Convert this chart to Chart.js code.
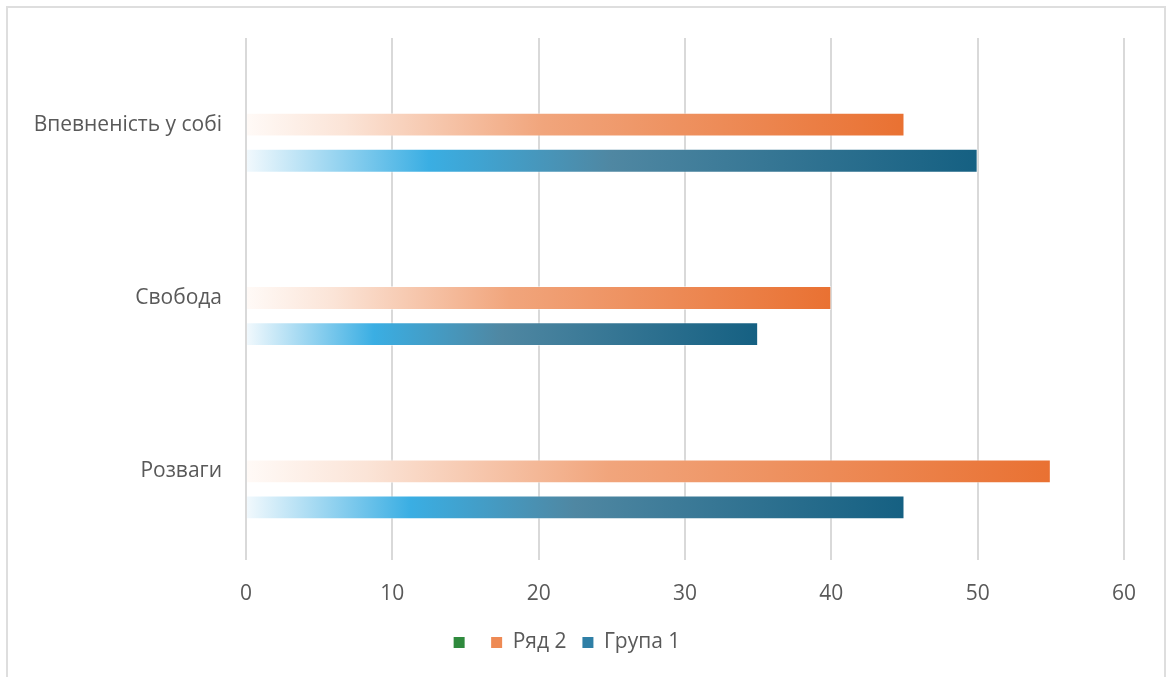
<!DOCTYPE html>
<html>
<head>
<meta charset="utf-8">
<script src="https://cdn.jsdelivr.net/npm/chart.js@4"></script>
<style>
  html, body { margin: 0; padding: 0; background: #fff; }
  #wrap { position: relative; width: 1168px; height: 677px; overflow: hidden; }
  #frame { position: absolute; left: 6px; top: 6px; width: 1160px; height: 700px;
           border: 2px solid #dedede; box-sizing: border-box; pointer-events: none; }
  canvas { position: absolute; left: 0; top: 0; }
</style>
</head>
<body>
<div id="wrap">
  <canvas id="barChart" width="1168" height="677"></canvas>
  <div id="frame"></div>
</div>
<script>
document.addEventListener('DOMContentLoaded', function () {

    // --- DATA ---
    const categories = ['Впевненість у собі', 'Свобода', 'Розваги'];
    const seriesNames = ['', 'Ряд 2', 'Група 1'];
    const series3 = [null, null, null];   // empty green series
    const series2 = [45, 40, 55];         // Ряд 2
    const series1 = [50, 35, 45];         // Група 1
    const xTicks = [0, 10, 20, 30, 40, 50, 60];

    const textColor = '#595959';
    const fontFamily = '"Open Sans", "Liberation Sans", sans-serif';

    // gradient stops per series (applied along each bar's own length)
    const greenStops = [[0, '#8fd89a'], [1, '#1e6b2c']];
    const orangeStops = [[0, '#fffaf7'], [0.15, '#fbe4d7'], [0.45, '#f1a57c'], [1, '#e97132']];
    const blueStops = [[0, '#f2f9fd'], [0.25, '#3aaee3'], [0.5, '#4f87a2'], [1, '#156082']];

    // solid colours used for the legend boxes
    const legendColors = ['#2f8a3d', '#ee8a54', '#2f7fa6'];

    // Builds a scriptable background that spans from 0 to the bar's value
    function barGradient(stops, fallback) {
        return function (context) {
            const chart = context.chart;
            const xScale = chart.scales.x;
            if (!chart.chartArea || !xScale || context.type !== 'data' || !context.parsed || context.parsed.x == null) {
                return fallback;
            }
            const x0 = xScale.getPixelForValue(0);
            const x1 = xScale.getPixelForValue(context.parsed.x);
            const g = chart.ctx.createLinearGradient(x0, 0, x1, 0);
            stops.forEach(s => g.addColorStop(s[0], s[1]));
            return g;
        };
    }

    const ctx = document.getElementById('barChart').getContext('2d');

    new Chart(ctx, {
        type: 'bar',
        data: {
            labels: categories,
            datasets: [
                { label: seriesNames[0], data: series3, backgroundColor: barGradient(greenStops, legendColors[0]) },
                { label: seriesNames[1], data: series2, backgroundColor: barGradient(orangeStops, legendColors[1]),
                  borderColor: 'rgba(255,255,255,0.45)', borderWidth: 1 },
                { label: seriesNames[2], data: series1, backgroundColor: barGradient(blueStops, legendColors[2]),
                  borderColor: 'rgba(255,255,255,0.45)', borderWidth: 1 }
            ]
        },
        options: {
            indexAxis: 'y',
            responsive: false,
            animation: false,
            devicePixelRatio: 1,
            datasets: {
                bar: { categoryPercentage: 0.625, barPercentage: 0.66 }
            },
            layout: { padding: { top: 38, right: 44, left: 10, bottom: 14 } },
            scales: {
                x: {
                    min: 0,
                    max: 60,
                    afterBuildTicks: function (scale) {
                        scale.ticks = xTicks.map(v => ({ value: v }));
                    },
                    afterFit: function (scale) { scale.height = 58; },
                    grid: { color: '#d9d9d9', lineWidth: 2, drawTicks: true, tickLength: 2, tickColor: '#d9d9d9' },
                    border: { display: false },
                    ticks: { color: textColor, padding: 21, font: { family: fontFamily, size: 21 } }
                },
                y: {
                    afterFit: function (scale) { scale.width = 236; },
                    grid: { display: false, drawTicks: false },
                    border: { display: false },
                    ticks: { color: textColor, padding: 24, font: { family: fontFamily, size: 21 } }
                }
            },
            plugins: {
                legend: {
                    position: 'bottom',
                    labels: {
                        color: textColor,
                        boxWidth: 11,
                        boxHeight: 11,
                        padding: 16,
                        font: { family: fontFamily, size: 21 },
                        generateLabels: function (chart) {
                            const items = Chart.defaults.plugins.legend.labels.generateLabels(chart);
                            items.forEach((item, i) => {
                                item.fillStyle = legendColors[i];
                                item.strokeStyle = legendColors[i];
                                item.lineWidth = 0;
                            });
                            return items;
                        }
                    }
                },
                tooltip: { enabled: false }
            }
        }
    });
});
</script>
</body>
</html>
